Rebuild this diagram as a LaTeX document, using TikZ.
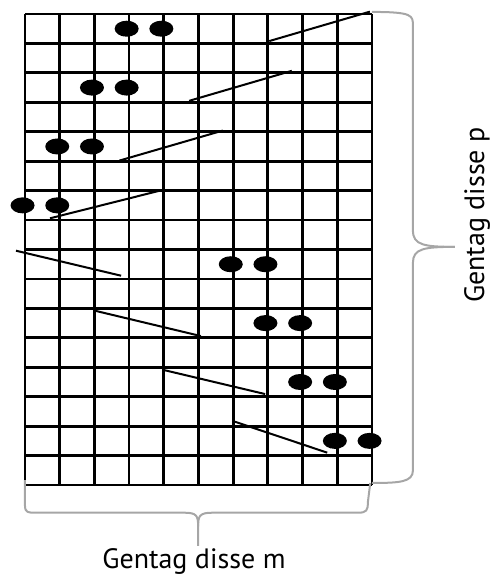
\documentclass[tikz,border=0pt]{standalone}
\usepackage{fontspec}
\setmainfont{PT Sans}
\usetikzlibrary{shapes.geometric}
\definecolor{braceGray}{HTML}{A6A6A6}
\newcommand{\ColW}{34.7pt}
\newcommand{\RowH}{29.44pt}
\tikzset{Dot/.style={
    ellipse,
    inner sep=0pt,
    minimum width=24pt,
    minimum height=16pt,
    fill=black,
    }
}
\tikzset{Brace/.style={braceGray, line width=2pt, line join=round}}

\begin{document}
\begin{tikzpicture}[x=\ColW, y=-\RowH,
    Slope/.style={black, line width=2pt},
    Lbl/.style={font=\fontsize{28}{32}\selectfont, inner sep=0pt},
]
\useasboundingbox (-0.72,-0.4755) rectangle (13.516,19.124);
% the grid
\foreach \i in {0,...,10} \draw[line width=2.8pt] (\i,0) -- (\i,16);
\foreach \j in {0,...,16} \draw[line width=2.8pt] (0,\j) -- (10,\j);
% dots, two per row
\pgfmathsetmacro{\col}{3}; \pgfmathsetmacro{\row}{0.5};
\node [Dot] (a1) at (\col-0.07,\row) {}; \node [Dot] (a2) at (\col+0.93,\row) {};
\pgfmathsetmacro{\col}{2}; \pgfmathsetmacro{\row}{2.5};
\node [Dot] (b1) at (\col-0.07,\row) {}; \node [Dot] (b2) at (\col+0.93,\row) {};
\pgfmathsetmacro{\col}{1}; \pgfmathsetmacro{\row}{4.5};
\node [Dot] (c1) at (\col-0.07,\row) {}; \node [Dot] (c2) at (\col+0.93,\row) {};
\pgfmathsetmacro{\col}{0}; \pgfmathsetmacro{\row}{6.5};
\node [Dot] (d1) at (\col-0.07,\row) {}; \node [Dot] (d2) at (\col+0.93,\row) {};
\pgfmathsetmacro{\col}{6}; \pgfmathsetmacro{\row}{8.5};
\node [Dot] (e1) at (\col-0.07,\row) {}; \node [Dot] (e2) at (\col+0.93,\row) {};
\pgfmathsetmacro{\col}{7}; \pgfmathsetmacro{\row}{10.5};
\node [Dot] (f1) at (\col-0.07,\row) {}; \node [Dot] (f2) at (\col+0.93,\row) {};
\pgfmathsetmacro{\col}{8}; \pgfmathsetmacro{\row}{12.5};
\node [Dot] (g1) at (\col-0.07,\row) {}; \node [Dot] (g2) at (\col+0.93,\row) {};
\pgfmathsetmacro{\col}{9}; \pgfmathsetmacro{\row}{14.5};
\node [Dot] (h1) at (\col-0.07,\row) {}; \node [Dot] (h2) at (\col+0.93,\row) {};
% slanted strokes
\draw[Slope] (7.04,0.92) -- (9.94,-0.08);
\draw[Slope] (4.73,2.95) -- (7.69,1.93);
\draw[Slope] (2.72,4.98) -- (5.70,3.96);
\draw[Slope] (0.72,6.94) -- (3.99,5.97);
\draw[Slope] (-0.26,8.04) -- (2.77,8.89);
\draw[Slope] (2.02,10.08) -- (5.07,10.94);
\draw[Slope] (3.99,12.09) -- (6.92,12.91);
\draw[Slope] (6.05,13.85) -- (8.71,14.90);
% braces
\draw[Brace] (10,-0.07) .. controls (11.18,-0.07) and (11.18,0.05) .. (11.18,0.4)
    -- (11.18,7.35) .. controls (11.18,7.85) and (11.5,7.91) .. (12.39,7.91);
\draw[Brace] (12.39,7.91) .. controls (11.5,7.91) and (11.18,7.97) .. (11.18,8.45)
    -- (11.18,15.5) .. controls (11.18,15.9) and (10.8,15.93) .. (10,15.93);
\draw[Brace] (0,15.83) -- (0,16.7) .. controls (0,16.94) and (0.1,16.94) .. (0.3,16.94)
    -- (4.6,16.94) .. controls (4.95,16.94) and (4.99,17.05) .. (4.99,17.4) -- (4.99,18.07);
\draw[Brace] (4.99,17.4) .. controls (4.99,17.05) and (5.03,16.94) .. (5.4,16.94)
    -- (9.6,16.94) .. controls (9.85,16.94) and (9.88,16.85) .. (9.88,16.6) -- (9.95,15.93);
% labels
\node [Lbl] (repM) at (4.87,18.61) {Gentag disse m};
\node [Lbl, rotate=90] (repP) at (13.03,6.83) {Gentag disse p};
\end{tikzpicture}
\end{document}
